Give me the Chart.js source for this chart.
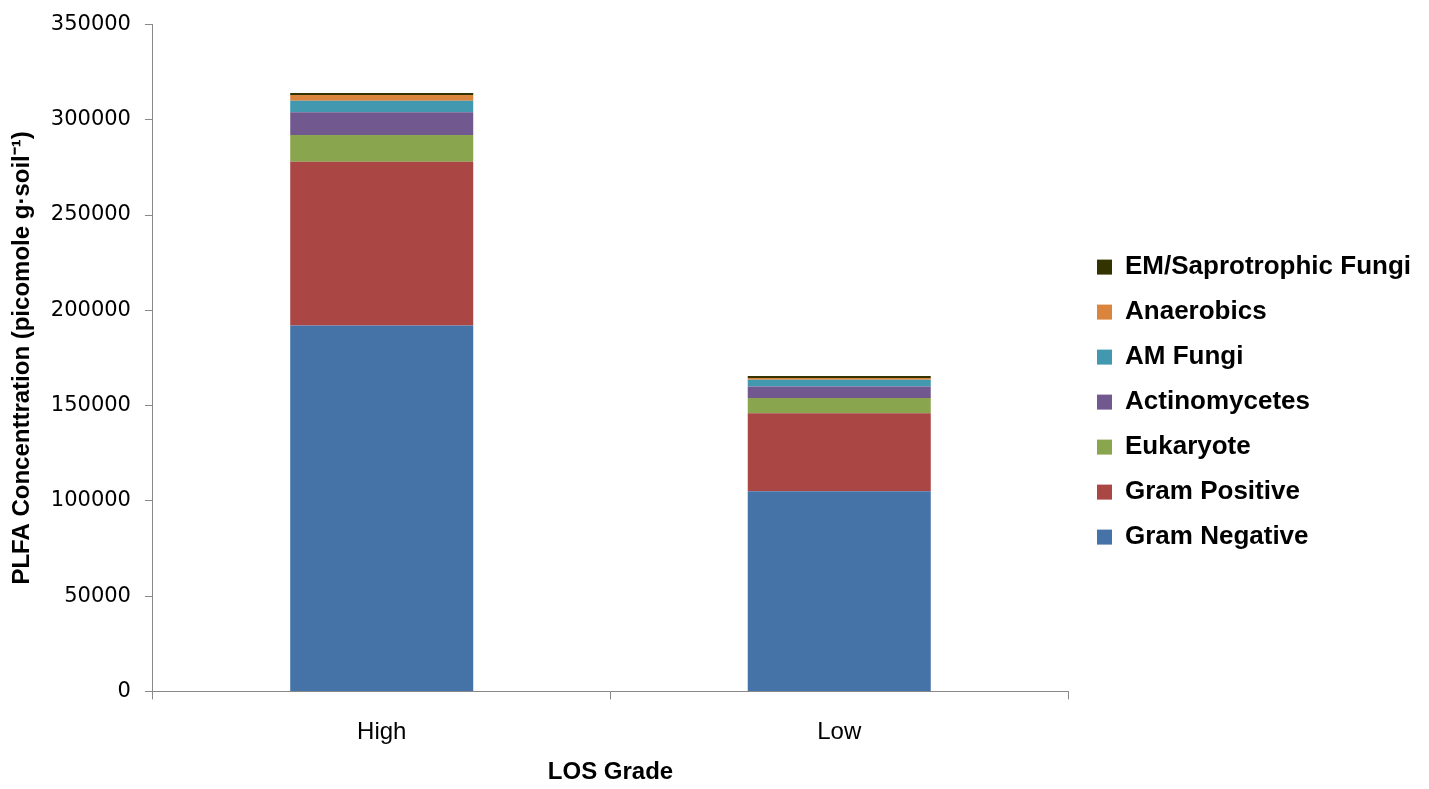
<!DOCTYPE html>
<html>
<head>
<meta charset="utf-8">
<script src="https://cdn.jsdelivr.net/npm/chart.js@4/dist/chart.umd.min.js"></script>
<style>
  html, body { margin: 0; padding: 0; background: #ffffff; }
  #wrap { width: 1429px; height: 789px; }
</style>
</head>
<body>
<div id="wrap"><canvas id="chart" width="1429" height="789"></canvas></div>
<script>
// LOS grade categories
const categories = ['High', 'Low'];

// PLFA concentration by microbial group (picomole g·soil⁻¹)
const gramNegative   = [192000, 105000];
const gramPositive   = [86000, 41000];
const eukaryote      = [14000, 8000];
const actinomycetes  = [12000, 6000];
const amFungi        = [6000, 3500];
const anaerobics     = [3000, 1000];
const emSaprotrophic = [1000, 1000];

const yTicks = [0, 50000, 100000, 150000, 200000, 250000, 300000, 350000];

const seriesNames  = ['Gram Negative', 'Gram Positive', 'Eukaryote', 'Actinomycetes', 'AM Fungi', 'Anaerobics', 'EM/Saprotrophic Fungi'];
const seriesValues = [gramNegative, gramPositive, eukaryote, actinomycetes, amFungi, anaerobics, emSaprotrophic];
const seriesColors = ['#4572A7', '#AA4643', '#89A54E', '#71588F', '#4198AF', '#DB843D', '#333300'];

const datasets = seriesNames.map((name, i) => ({
  label: name,
  data: seriesValues[i],
  backgroundColor: seriesColors[i],
  borderWidth: 0,
  categoryPercentage: 1.0,
  barPercentage: 0.4
}));

new Chart(document.getElementById('chart'), {
  type: 'bar',
  data: { labels: categories, datasets },
  options: {
    responsive: false,
    animation: false,
    layout: { padding: { top: 3, right: 8, left: 8, bottom: 2 } },
    plugins: {
      tooltip: { enabled: false },
      legend: {
        position: 'right',
        reverse: true,
        // blank title block nudges the legend entries slightly downward
        title: { display: true, text: '', padding: { top: 7, bottom: 6 }, font: { size: 1 } },
        labels: {
          boxWidth: 15,
          boxHeight: 15,
          padding: 19,
          color: '#000000',
          font: { family: 'Liberation Sans', weight: 'bold', size: 26 }
        }
      }
    },
    scales: {
      x: {
        stacked: true,
        border: { color: '#888888', width: 1 },
        grid: { display: true, drawOnChartArea: false, drawTicks: true, tickLength: 8, color: '#888888', offset: true },
        ticks: { color: '#000000', padding: 19, font: { family: 'Liberation Sans', size: 24 } },
        title: {
          display: true,
          text: 'LOS Grade',
          color: '#000000',
          padding: { top: -8, bottom: 0 },
          font: { family: 'Liberation Sans', weight: 'bold', size: 24 }
        }
      },
      y: {
        stacked: true,
        min: 0,
        max: 350000,
        afterBuildTicks: (axis) => { axis.ticks = yTicks.map(v => ({ value: v })); },
        border: { color: '#888888', width: 1 },
        grid: { display: true, drawOnChartArea: false, drawTicks: true, tickLength: 8, color: '#888888' },
        ticks: {
          color: '#000000',
          padding: 14,
          font: { family: 'DejaVu Sans', size: 21, lineHeight: 1.0 },
          callback: (v) => String(v)
        },
        title: {
          display: true,
          text: 'PLFA Concenttration (picomole g·soil⁻¹)',
          color: '#000000',
          padding: { top: 0, bottom: 0 },
          font: { family: 'Liberation Sans', weight: 'bold', size: 24 }
        }
      },
      // hidden scale that keeps a margin between the plot and the legend
      gap: {
        type: 'linear',
        position: 'right',
        display: false,
        afterFit: (scale) => { scale.width = 10; }
      }
    }
  }
});
</script>
</body>
</html>
